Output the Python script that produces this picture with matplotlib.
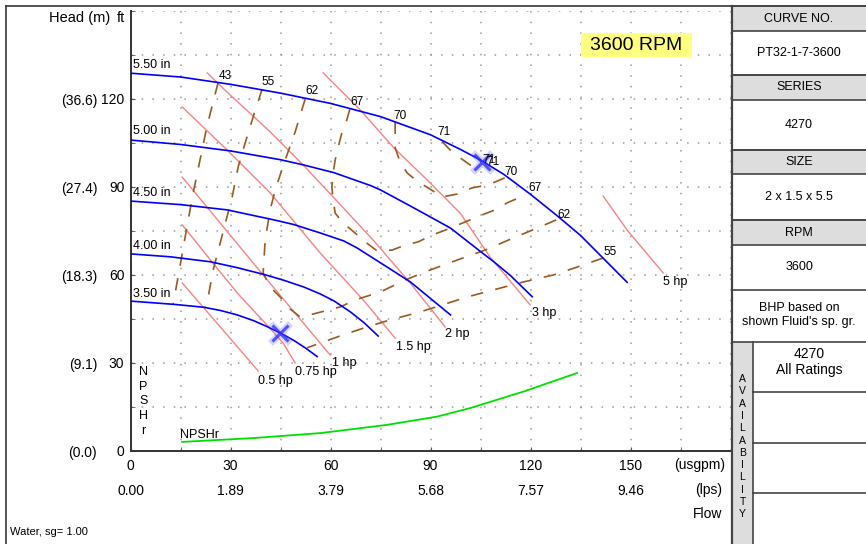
import matplotlib
matplotlib.use('Agg')
import matplotlib.pyplot as plt
from matplotlib.patches import Rectangle
from matplotlib.lines import Line2D
from matplotlib.ticker import MultipleLocator

plt.rcParams['font.family'] = ['Liberation Sans', 'DejaVu Sans']

W, H = 866, 544

# axis ticks
flow_ticks = [0, 30, 60, 90, 120, 150]     # usgpm
head_ticks = [0, 30, 60, 90, 120]          # ft
GPM_TO_LPS = 0.0630902
FT_TO_M = 0.3048

# impeller curves (usgpm, ft)
imp_labels = ['5.50 in', '5.00 in', '4.50 in', '4.00 in', '3.50 in']
q_550 = [0, 15, 30, 45, 60, 75, 90, 99, 105, 112, 120, 128, 135, 142, 149]
h_550 = [128.8, 127.5, 125.0, 122.0, 118.5, 114.0, 107.8, 102.8, 99.2, 94.3, 87.5, 80.2, 73.5, 65.5, 57.5]
q_500 = [0, 15, 30, 45, 52, 61, 72, 75, 84, 96, 105, 109, 114, 120.5]
h_500 = [106.0, 104.5, 102.3, 99.3, 97.5, 94.9, 90.5, 89.0, 83.5, 76.0, 68.0, 64.5, 59.8, 52.6]
q_450 = [0, 15, 29, 43, 49, 57, 64, 68, 77, 84, 93, 96]
h_450 = [85.2, 84.0, 82.2, 78.8, 77.2, 74.3, 71.6, 69.2, 62.7, 57.6, 49.2, 46.4]
q_400 = [0, 12, 24, 32, 40, 46, 52, 57, 61, 66, 70, 74.3]
h_400 = [67.2, 66.2, 64.5, 62.5, 60.2, 58.2, 55.9, 53.5, 51.2, 47.4, 43.8, 39.2]
q_350 = [0, 13, 22, 27, 32, 37, 41, 45, 49, 52.5, 56]
h_350 = [51.1, 50.0, 49.0, 47.9, 46.4, 44.4, 42.4, 40.2, 37.7, 35.1, 32.2]
imp_label_h = [131.6, 109.1, 88.0, 69.9, 53.5]

# power lines (usgpm, ft)
hp_labels = ['0.5 hp', '0.75 hp', '1 hp', '1.5 hp', '2 hp', '3 hp', '5 hp']
q_hp05 = [15.5, 27.0, 38.3]
h_hp05 = [57.3, 42.2, 27.3]
q_hp075 = [15.5, 24.5, 32.0, 40.4, 45.8, 49.4]
h_hp075 = [77.1, 64.4, 53.9, 43.6, 36.8, 30.0]
q_hp1 = [15.5, 39.8, 59.9]
h_hp1 = [93.4, 60.0, 32.7]
q_hp15 = [15.5, 29.0, 41.9, 56.9, 69.8, 79.4]
h_hp15 = [117.3, 102.6, 88.0, 67.5, 51.5, 38.5]
q_hp2 = [23.0, 29.3, 41.9, 51.8, 60.8, 72.8, 83.9, 94.4]
h_hp2 = [128.9, 122.0, 108.8, 97.5, 86.6, 71.9, 57.3, 42.3]
q_hp3 = [57.8, 68.9, 78.8, 89.0, 98.9, 107.9, 119.9]
h_hp3 = [128.9, 116.3, 103.6, 92.4, 81.1, 66.1, 49.8]
q_hp5 = [141.8, 149.0, 159.8]
h_hp5 = [86.9, 75.3, 60.7]
hp_label_q = [38.3, 49.4, 60.4, 79.7, 94.4, 120.4, 159.8]
hp_label_h = [24.0, 27.0, 30.1, 35.6, 39.8, 46.9, 57.7]

# efficiency contours (usgpm, ft)
q_e43 = [26.3, 22.9, 21.0, 18.8, 16.4, 14.7, 12.8]
h_e43 = [125.7, 110.5, 100.0, 88.0, 73.0, 62.0, 50.2]
q_e55a = [39.5, 36.8, 34.4, 32.3, 30.5, 26.9, 24.8, 23.3, 22.4]
h_e55a = [123.4, 113.9, 105.0, 96.8, 86.6, 70.9, 61.7, 52.5, 49.0]
q_e55b = [141.8, 134.0, 126.8, 117.8, 108.8, 101.0, 93.5, 86.9, 77.9, 71.0, 63.8, 53.0]
h_e55b = [65.8, 62.7, 60.0, 57.6, 54.9, 52.5, 49.8, 47.4, 44.7, 42.3, 39.6, 35.2]
q_e62 = [52.4, 49.4, 46.4, 43.4, 41.9, 40.4, 39.8, 41.9, 44.9, 47.9, 50.9,
         54.8, 62.9, 67.4, 74.9, 82.4, 89.9, 98.0, 106.4, 114.8, 122.0, 129.0]
h_e62 = [120.0, 108.8, 99.2, 89.0, 82.2, 71.9, 60.7, 55.9, 52.5, 48.4, 45.7,
         46.7, 49.1, 51.5, 54.2, 58.3, 61.7, 65.1, 68.5, 72.6, 76.0, 79.4]
q_e67 = [65.8, 64.9, 63.4, 62.3, 61.4, 60.8, 60.4, 60.8, 61.4, 63.8, 67.4, 70.4, 74.0,
         78.5, 82.4, 86.3, 90.5, 94.4, 98.3, 101.9, 105.5, 109.4, 113.0, 118.5]
h_e67 = [116.5, 112.9, 108.4, 103.6, 99.2, 94.8, 90.0, 85.6, 81.1, 77.7, 74.3, 71.3, 68.2,
         68.5, 70.2, 71.3, 73.6, 75.3, 77.1, 78.8, 80.5, 82.2, 84.6, 87.3]
q_e70 = [79.4, 79.4, 79.4, 80.9, 83.0, 86.3, 89.3, 93.5, 98.0, 102.5, 105.8, 109.4, 113.0]
h_e70 = [112.3, 107.7, 103.3, 98.5, 94.8, 91.7, 89.7, 86.6, 87.6, 89.7, 90.4, 91.7, 93.5]
q_e71 = [93.5, 95.9, 99.8, 101.9, 104.0, 105.5]
h_e71 = [105.5, 102.6, 99.2, 97.5, 97.8, 98.8]
eff_left_labels = ['43', '55', '62', '67', '70', '71']
eff_left_q = [28.4, 41.3, 54.5, 68.0, 80.9, 94.1]
eff_left_h = [127.9, 125.8, 122.7, 119.0, 114.2, 108.6]
eff_right_labels = ['71', '70', '67', '62', '55']
eff_right_q = [107.5, 114.1, 121.4, 130.0, 143.8]
eff_right_h = [99.2, 95.2, 89.6, 80.5, 67.7]

# best efficiency points
bep_q = [105.5, 44.9]
bep_h = [98.6, 40.2]

# NPSHr
q_npsh = [15.5, 36.8, 56.9, 76.9, 91.9, 101.8, 118.0, 134.0]
h_npsh = [3.1, 4.4, 6.1, 8.9, 11.7, 14.6, 20.3, 26.6]

# info panel
panel_rows = [('CURVE NO.', 'PT32-1-7-3600'), ('SERIES', '4270'),
              ('SIZE', '2 x 1.5 x 5.5'), ('RPM', '3600')]


def fx(x):
    return x / W


def fy(y):
    return 1 - y / H


fig = plt.figure(figsize=(W / 100, H / 100), dpi=100)
ax = fig.add_axes([fx(130.5), fy(451), 600 / W, 440 / H])
ax.set_xlim(0, 180)
ax.set_ylim(0, 150)

ax.set_xticks(flow_ticks)
ax.set_xticklabels([str(v) for v in flow_ticks])
ax.set_yticks(head_ticks)
ax.set_yticklabels([str(v) for v in head_ticks])
ax.xaxis.set_minor_locator(MultipleLocator(15))
ax.yaxis.set_minor_locator(MultipleLocator(15))
ax.tick_params(which='both', direction='in', length=3, color='#555555',
               labelsize=10, pad=4.5)
ax.tick_params(axis='x', pad=6)
ax.grid(which='both', color='#999999', linestyle=(0, (1, 6)), linewidth=1.1)
ax.set_axisbelow(True)
for s in ['top', 'right']:
    ax.spines[s].set_visible(False)
for s in ['left', 'bottom']:
    ax.spines[s].set_color('#333333')
    ax.spines[s].set_linewidth(1.4)

# secondary scales (lps, m)
secx = ax.secondary_xaxis(-25 / 440, functions=(lambda q: q * GPM_TO_LPS,
                                                 lambda l: l / GPM_TO_LPS))
secx.set_xticks([v * GPM_TO_LPS for v in flow_ticks])
secx.set_xticklabels(['%.2f' % (v * GPM_TO_LPS) for v in flow_ticks])
secx.tick_params(length=0, labelsize=10, pad=6)
secx.spines['bottom'].set_visible(False)

secy = ax.secondary_yaxis(-27 / 600, functions=(lambda h: h * FT_TO_M,
                                                 lambda m: m / FT_TO_M))
secy.set_yticks([v * FT_TO_M for v in head_ticks])
secy.set_yticklabels(['(%.1f)' % (v * FT_TO_M) for v in head_ticks])
secy.tick_params(length=0, labelsize=10, pad=4.5)
secy.spines['left'].set_visible(False)

# impeller curves
blue = '#0000ff'
for q, h, lab, lh in zip([q_550, q_500, q_450, q_400, q_350],
                         [h_550, h_500, h_450, h_400, h_350],
                         imp_labels, imp_label_h):
    ax.plot(q, h, color=blue, lw=1.2, zorder=4)
    ax.text(0.75, lh, lab, fontsize=9, ha='left', va='center', zorder=6)

# power lines
red = '#ff8080'
for q, h, lab, lq, lh in zip([q_hp05, q_hp075, q_hp1, q_hp15, q_hp2, q_hp3, q_hp5],
                             [h_hp05, h_hp075, h_hp1, h_hp15, h_hp2, h_hp3, h_hp5],
                             hp_labels, hp_label_q, hp_label_h):
    ax.plot(q, h, color=red, lw=1.0, zorder=3)
    ax.text(lq, lh, lab, fontsize=9, ha='left', va='center', zorder=6)

# efficiency contours
brown = '#9a5a20'
for q, h in zip([q_e43, q_e55a, q_e55b, q_e62, q_e67, q_e70, q_e71],
                [h_e43, h_e55a, h_e55b, h_e62, h_e67, h_e70, h_e71]):
    ax.plot(q, h, color=brown, lw=1.2, linestyle=(0, (7.5, 7.5)), zorder=3)
for lab, q, h in zip(eff_left_labels, eff_left_q, eff_left_h):
    ax.text(q, h, lab, fontsize=8.5, ha='center', va='center', zorder=6)
for lab, q, h in zip(eff_right_labels, eff_right_q, eff_right_h):
    ax.text(q, h, lab, fontsize=8.5, ha='center', va='center', zorder=6)
ax.text(eff_right_q[0] + 1.2, eff_right_h[0] - 0.6, eff_right_labels[0],
        fontsize=8.5, ha='center', va='center', zorder=6)

# BEP markers
ax.plot(bep_q, bep_h, 'x', color='#5555ff', ms=15, mew=5, alpha=0.25, zorder=5)
ax.plot(bep_q, bep_h, 'x', color='#3030ff', ms=12, mew=2.2, alpha=0.8, zorder=5)

# NPSHr
ax.plot(q_npsh, h_npsh, color='#00e000', lw=1.3, zorder=4)
ax.text(14.85, 5.45, 'NPSHr', fontsize=9, ha='left', va='center')
ax.text(3.9, 16.9, 'N\nP\nS\nH\nr', fontsize=9, ha='center', va='center',
        linespacing=1.3)

# axis titles
fig.text(fx(110), fy(18), 'Head (m)', fontsize=10.5, ha='right', va='center')
fig.text(fx(125), fy(18), 'ft', fontsize=10.5, ha='right', va='center')
fig.text(fx(725), fy(465), '(usgpm)', fontsize=10, ha='right', va='center')
fig.text(fx(722), fy(490), '(lps)', fontsize=10, ha='right', va='center')
fig.text(fx(722), fy(514), 'Flow', fontsize=10, ha='right', va='center')
fig.text(fx(10), fy(532), 'Water, sg= 1.00', fontsize=8, ha='left', va='center')

# speed tag
fig.add_artist(Rectangle((fx(581), fy(57)), 111 / W, 24 / H, transform=fig.transFigure,
                         facecolor='#ffff80', edgecolor='none', zorder=5))
fig.text(fx(636), fy(45), '3600 RPM', fontsize=14, ha='center', va='center', zorder=6)

# outer frame
edge = '#444444'
fig.add_artist(Line2D([fx(6), fx(6)], [fy(6), 0], color=edge, lw=1.3))
fig.add_artist(Line2D([fx(6), 1], [fy(6), fy(6)], color=edge, lw=1.3))

# right info panel
px0, px1 = 732, 866
gray = '#dddddd'
row_top = [6, 75, 150, 220]
row_mid = [31, 100, 174, 245]
row_bot = [75, 150, 220, 290]
for (head, val), t, m, b in zip(panel_rows, row_top, row_mid, row_bot):
    fig.add_artist(Rectangle((fx(px0), fy(m)), (px1 - px0) / W, (m - t) / H,
                             transform=fig.transFigure, facecolor=gray,
                             edgecolor='none'))
    for y in (t, m, b):
        fig.add_artist(Line2D([fx(px0), fx(px1)], [fy(y), fy(y)], color=edge, lw=1.2))
    fig.text(fx(799), fy((t + m) / 2), head, fontsize=9, ha='center', va='center')
    fig.text(fx(799), fy((m + b) / 2), val, fontsize=9, ha='center', va='center')

fig.text(fx(799), fy(315), "BHP based on\nshown Fluid's sp. gr.", fontsize=9,
         ha='center', va='center', linespacing=1.3)
fig.add_artist(Line2D([fx(px0), fx(px1)], [fy(342), fy(342)], color=edge, lw=1.2))

# availability block
fig.add_artist(Rectangle((fx(px0), 0), 21 / W, fy(342), transform=fig.transFigure,
                         facecolor=gray, edgecolor='none'))
fig.add_artist(Line2D([fx(753), fx(753)], [fy(342), 0], color=edge, lw=1.2))
for y in (392, 443, 493):
    fig.add_artist(Line2D([fx(753), fx(px1)], [fy(y), fy(y)], color=edge, lw=1.2))
fig.text(fx(809.5), fy(362), '4270\nAll Ratings', fontsize=10, ha='center',
         va='center', linespacing=1.1)
for i, ch in enumerate('AVAILABILITY'):
    fig.text(fx(742.5), fy(379 + i * 12.3), ch, fontsize=7.5, ha='center', va='center')

fig.add_artist(Line2D([fx(px0), fx(px0)], [fy(6), 0], color=edge, lw=1.6))

fig.savefig('out.png', dpi=100)
